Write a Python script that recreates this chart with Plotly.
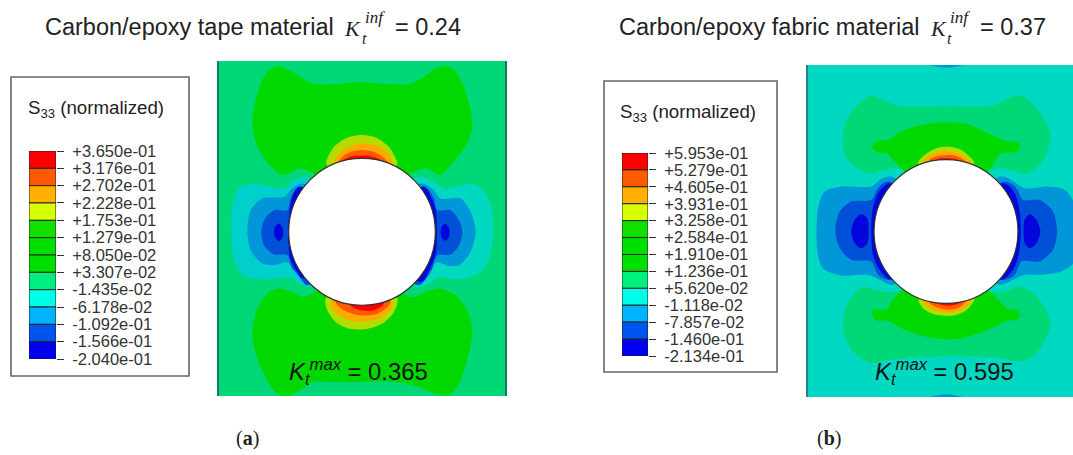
import plotly.graph_objects as go

W, H = 1073, 455

# ---- legend data ----
LEVELS_A = ["+3.650e-01","+3.176e-01","+2.702e-01","+2.228e-01","+1.753e-01","+1.279e-01","+8.050e-02",
            "+3.307e-02","-1.435e-02","-6.178e-02","-1.092e-01","-1.566e-01","-2.040e-01"]
LEVELS_B = ["+5.953e-01","+5.279e-01","+4.605e-01","+3.931e-01","+3.258e-01","+2.584e-01","+1.910e-01",
            "+1.236e-01","+5.620e-02","-1.118e-02","-7.857e-02","-1.460e-01","-2.134e-01"]
BAND_COLORS = ["#ff0000","#ff5a00","#ffb000","#d8ff00","#10e000","#00e000","#00e000",
               "#00f080","#00ffe8","#00b4ff","#0055f0","#0000f0"]

# ---- contour outlines, panel a (model units, y downwards) ----
A_GREEN_TOP = [(202,33),(237,45),(272,65),(312,87),(377,87),(452,81),(527,87),(597,87),(642,65),(677,40),(707,33),
               (737,50),(762,95),(782,165),(787,215),(772,265),(735,315),(690,360),(652,340),(612,350),(456,450),
               (300,350),(270,340),(217,360),(175,325),(140,270),(127,205),(137,135),(157,75),(177,45)]
A_GREEN_BOT = [(207,700),(247,710),(282,725),(456,640),(602,725),(647,710),(687,700),(737,720),(772,765),(787,825),
               (777,895),(747,985),(717,1020),(677,1015),(627,995),(557,980),(457,980),(357,980),(307,980),(277,1000),
               (242,1020),(212,1020),(187,1000),(152,935),(132,875),(127,825),(142,760),(177,710)]
A_YEL_TOP = [(349,327),(352,310),(372,275),(407,250),(452,240),(497,247),(537,275),(557,310),(562,327),(456,420)]
A_ORG_TOP = [(372,325),(387,295),(422,273),(457,265),(497,270),(527,290),(547,325),(456,420)]
A_ROR_TOP = [(387,320),(412,295),(452,285),(492,290),(517,305),(535,325),(456,420)]
A_RED_TOP = [(395,322),(420,305),(442,302),(477,302),(507,312),(522,325),(456,420)]
A_YEL_BOT = [(347,730),(352,765),(377,800),(417,820),(467,822),(517,805),(552,770),(562,730),(456,640)]
A_ORG_BOT = [(364,745),(387,780),(427,797),(477,797),(517,785),(547,750),(456,640)]
A_ROR_BOT = [(377,740),(402,765),(447,780),(497,777),(527,760),(542,737),(456,640)]
A_RED_BOT = [(422,750),(452,765),(492,765),(522,745),(456,640)]
A_CYAN_L = [(292,368),(257,372),(232,395),(207,400),(127,387),(87,400),(67,450),(64,530),(72,610),(97,660),(157,672),
            (217,668),(242,665),(267,685),(302,695),(456,530)]
A_LBLUE_L = [(277,385),(247,400),(222,425),(157,430),(122,465),(112,530),(122,585),(157,625),(192,630),(232,622),(262,660),(292,690),(456,530)]
A_MBLUE_L = [(267,395),(242,430),(232,465),(192,465),(162,495),(154,530),(162,570),(192,598),(232,600),(247,640),(272,665),(290,690),(456,530)]
A_DBLUE_L1 = [(267,395),(247,425),(240,460),(236,500),(234,530),(236,570),(240,610),(259,645),(277,670),(456,530)]
A_DBLUE_L2 = [(207,505),(217,518),(220,535),(215,552),(205,558),(195,545),(192,530),(195,515)]
A_CYAN_R = [(612,370),(647,368),(677,385),(707,400),(787,387),(827,415),(847,470),(849,540),(837,610),(812,650),
            (747,672),(687,665),(657,685),(617,695),(456,530)]
A_LBLUE_R = [(632,385),(667,400),(692,430),(752,430),(782,470),(797,530),(782,590),(747,630),(717,632),(677,622),(657,660),(627,690),(456,530)]
A_MBLUE_R = [(642,395),(672,430),(682,465),(722,465),(747,495),(757,530),(747,570),(722,598),(682,600),(667,640),(647,670),(625,690),(456,530)]
A_DBLUE_R1 = [(642,395),(665,430),(677,465),(681,530),(677,595),(660,640),(635,680),(456,530)]
A_DBLUE_R2 = [(705,505),(717,518),(719,530),(716,548),(705,557),(695,548),(692,530),(695,515)]

# ---- contour outlines, panel b ----
B_SPECK_T = [(389,30),(439,30),(489,30),(439,38)]
B_SPECK_B = [(389,1027),(439,1019),(489,1027)]
B_GREEN_TOP = [(209,122),(249,135),(304,155),(374,155),(444,152),(524,155),(584,150),(624,130),(664,122),(704,155),
               (734,195),(751,240),(739,300),(714,335),(674,358),(634,345),(599,340),(564,350),(438,450),(304,345),
               (279,340),(249,345),(204,355),(164,335),(134,300),(129,240),(139,195),(169,155)]
B_GREEN_BOT = [(189,697),(229,705),(264,712),(309,705),(438,640),(569,710),(614,710),(654,697),(694,710),(739,765),
               (751,810),(739,850),(704,900),(664,920),(604,910),(444,905),(324,910),(274,915),(214,925),(189,915),
               (159,890),(134,845),(129,805),(139,755),(164,715)]
B_BRIGHT_TOP = [(229,258),(264,255),(294,235),(344,215),(424,202),(504,208),(564,235),(624,260),(649,260),(661,275),
                (649,292),(624,292),(599,298),(569,345),(438,450),(309,345),(284,320),(259,295),(229,292),(216,275)]
B_BRIGHT_BOT = [(219,765),(229,763),(259,765),(279,735),(309,705),(438,640),(569,710),(599,740),(624,763),(649,765),
                (661,780),(649,797),(624,797),(564,825),(474,853),(394,850),(314,825),(259,797),(229,797),(216,780)]
B_YEL_TOP = [(354,325),(374,300),(409,280),(444,275),(484,285),(509,305),(522,325),(438,420)]
B_ORG_TOP = [(369,320),(394,300),(434,288),(474,295),(499,310),(514,325),(438,420)]
B_ROR_TOP = [(389,315),(424,302),(464,302),(494,320),(438,420)]
B_RED_TOP = [(409,315),(439,310),(469,313),(484,322),(438,420)]
B_YEL_BOT = [(356,735),(374,765),(409,780),(454,783),(494,770),(514,750),(524,730),(438,640)]
B_ORG_BOT = [(369,735),(389,760),(424,772),(464,772),(494,760),(514,733),(438,640)]
B_ROR_BOT = [(384,737),(409,757),(444,765),(474,760),(499,735),(438,640)]
B_RED_BOT = [(414,745),(444,753),(474,747),(489,735),(438,640)]
B_LBLUE_L = [(274,365),(239,375),(214,395),(124,395),(74,410),(54,460),(52,590),(69,640),(124,662),(204,660),(239,675),(279,690),(438,530)]
B_MBLUE_L = [(264,380),(234,400),(214,435),(154,440),(119,470),(106,525),(119,580),(154,615),(214,620),(234,660),(269,675),(438,530)]
B_DBLUE_L1 = [(269,385),(234,415),(217,470),(214,530),(219,600),(239,645),(274,675),(438,530)]
B_DBLUE_L2 = [(184,478),(202,490),(206,530),(202,565),(184,580),(164,565),(154,530),(164,495)]
B_LBLUE_R = [(599,365),(634,375),(674,400),(744,395),(794,405),(825,450),(830,530),(825,620),(784,650),(714,660),(674,660),(639,675),(599,690),(438,530)]
B_MBLUE_R = [(614,380),(649,400),(669,435),(719,435),(759,470),(771,530),(759,585),(719,620),(664,620),(644,660),(609,675),(438,530)]
B_DBLUE_R1 = [(609,385),(644,415),(659,470),(662,530),(656,600),(639,645),(604,675),(438,530)]
B_DBLUE_R2 = [(689,478),(709,495),(721,530),(709,565),(689,580),(674,565),(671,530),(674,495)]

PANEL_A = dict(x=(27,885), y=(1022,18), hole=(456,530,220))
PANEL_B = dict(x=(24,819), y=(1027,30), hole=(438,530,216))

DBLUE, MBLUE, LBLUE, CYAN, CYAN2 = "#0404dc", "#0050d8", "#0096d8", "#00d8c2", "#00cfcc"
SEA, GREEN, YEL, ORG, ROR, RED = "#00d878", "#00d800", "#b4dc00", "#ffa800", "#ff5a00", "#ff0000"

DRAW_A = [(A_GREEN_TOP,GREEN),(A_GREEN_BOT,GREEN),
          (A_YEL_TOP,YEL),(A_ORG_TOP,ORG),(A_ROR_TOP,ROR),(A_RED_TOP,RED),
          (A_YEL_BOT,YEL),(A_ORG_BOT,ORG),(A_ROR_BOT,ROR),(A_RED_BOT,RED),
          (A_CYAN_L,CYAN2),(A_LBLUE_L,LBLUE),(A_MBLUE_L,MBLUE),(A_DBLUE_L1,DBLUE),(A_DBLUE_L2,DBLUE),
          (A_CYAN_R,CYAN),(A_LBLUE_R,LBLUE),(A_MBLUE_R,MBLUE),(A_DBLUE_R1,DBLUE),(A_DBLUE_R2,DBLUE)]
DRAW_B = [(B_SPECK_T,LBLUE),(B_SPECK_B,LBLUE),(B_GREEN_TOP,SEA),(B_GREEN_BOT,SEA),(B_BRIGHT_TOP,GREEN),(B_BRIGHT_BOT,GREEN),
          (B_YEL_TOP,YEL),(B_ORG_TOP,ORG),(B_ROR_TOP,ROR),(B_RED_TOP,RED),
          (B_YEL_BOT,YEL),(B_ORG_BOT,ORG),(B_ROR_BOT,ROR),(B_RED_BOT,RED),
          (B_LBLUE_L,LBLUE),(B_MBLUE_L,MBLUE),(B_DBLUE_L1,DBLUE),(B_DBLUE_L2,DBLUE),
          (B_LBLUE_R,LBLUE),(B_MBLUE_R,MBLUE),(B_DBLUE_R1,DBLUE),(B_DBLUE_R2,DBLUE)]

def dx(a, b): return [a / W, b / W]
def dy(t, b): return [1 - b / H, 1 - t / H]
def px(x): return x / W
def py(y): return 1 - y / H

fig = go.Figure()

def add_panel(panel, draw, bg, ax):
    xa, xb = panel["x"]; yb, yt = panel["y"]
    xr, yr = ("x", "y") if ax == "" else ("x" + ax, "y" + ax)
    fig.add_trace(go.Scatter(x=[xa, xb, xb, xa], y=[yb, yb, yt, yt], fill="toself", fillcolor=bg, mode="none",
                             xaxis=xr, yaxis=yr, showlegend=False, hoverinfo="skip"))
    for pts, col in draw:
        xs = [p[0] for p in pts] + [pts[0][0]]
        ys = [p[1] for p in pts] + [pts[0][1]]
        fig.add_trace(go.Scatter(x=xs, y=ys, fill="toself", fillcolor=col, mode="lines",
                                 line=dict(width=0, shape="spline", smoothing=0.8, color=col),
                                 xaxis=xr, yaxis=yr, showlegend=False, hoverinfo="skip"))
    cx, cy, r = panel["hole"]
    fig.add_shape(type="circle", xref=xr, yref=yr, x0=cx - r, x1=cx + r, y0=cy - r, y1=cy + r,
                  fillcolor="white", line=dict(color="#333333", width=1.2), layer="above")

add_panel(PANEL_A, DRAW_A, SEA, "")
add_panel(PANEL_B, DRAW_B, CYAN, "2")

def add_legend(levels, ax):
    vals = [float(s) for s in levels]
    base = vals[1:]
    size = [vals[i] - vals[i + 1] for i in range(len(vals) - 1)]
    fig.add_trace(go.Bar(x=[0] * len(size), y=size, base=base, width=1, marker=dict(color=BAND_COLORS, line=dict(color="#222222", width=1)),
                         xaxis="x" + ax, yaxis="y" + ax, showlegend=False, hoverinfo="skip"))

add_legend(LEVELS_A, "3")
add_legend(LEVELS_B, "4")

def leg_y(levels, dom, anchor):
    vals = [float(s) for s in levels]
    return dict(domain=dom, range=[vals[-1], vals[0]], anchor=anchor, side="right", tickmode="array", tickvals=vals, ticktext=levels,
                ticks="outside", ticklen=7, tickcolor="#333333", tickwidth=1, showgrid=False, zeroline=False, showline=False,
                tickfont=dict(family="Liberation Sans", size=16.5, color="#333333"), ticklabelstandoff=5)

hidden = dict(visible=False, showgrid=False, zeroline=False)
fig.update_layout(
    width=W, height=H, margin=dict(l=0, r=0, t=0, b=0, autoexpand=False), paper_bgcolor="white", plot_bgcolor="rgba(0,0,0,0)", showlegend=False,
    barmode="overlay",
    xaxis=dict(domain=dx(219, 505), range=list(PANEL_A["x"]), **hidden),
    yaxis=dict(domain=dy(61, 396), range=list(PANEL_A["y"]), visible=True, showticklabels=False, ticks="", showgrid=False, zeroline=False,
               showline=True, mirror=True, linecolor="#127a60", linewidth=1.5, anchor="x"),
    xaxis2=dict(domain=dx(808, 1073), range=list(PANEL_B["x"]), anchor="y2", **hidden),
    yaxis2=dict(domain=dy(65, 397), range=list(PANEL_B["y"]), anchor="x2", showticklabels=False, ticks="", showgrid=False, zeroline=False,
                showline=True, linecolor="#2a7f95", linewidth=1.5),
    xaxis3=dict(domain=dx(29, 56), range=[-0.5, 0.5], anchor="y3", **hidden),
    yaxis3=leg_y(LEVELS_A, dy(151, 359), "x3"),
    xaxis4=dict(domain=dx(622, 648), range=[-0.5, 0.5], anchor="y4", **hidden),
    yaxis4=leg_y(LEVELS_B, dy(153, 356), "x4"),
)

for x0, y0, x1, y1 in [(11, 77, 189, 376), (604, 81, 777, 372)]:
    fig.add_shape(type="rect", xref="paper", yref="paper", x0=px(x0), x1=px(x1), y0=py(y0), y1=py(y1),
                  line=dict(color="#666666", width=1.6), fillcolor="white", layer="below")

SANS, SERIF = "Liberation Sans", "Liberation Serif"
def note(text, x, y, size, family=SANS, color="#222222", anchor="left"):
    fig.add_annotation(text=text, xref="paper", yref="paper", x=px(x), y=py(y), xanchor=anchor, yanchor="middle",
                       showarrow=False, font=dict(family=family, size=size, color=color))

note("Carbon/epoxy tape material", 43, 27, 23.5)
note("<i>K</i>", 342, 29, 22, SERIF)
note("<i>t</i>", 360, 38, 16, SERIF)
note("<i>inf</i>", 363, 18, 17, SERIF)
note("= 0.24", 393, 27, 23.5)
note("Carbon/epoxy fabric material", 617, 27, 23.5)
note("<i>K</i>", 928, 29, 22, SERIF)
note("<i>t</i>", 945, 38, 16, SERIF)
note("<i>inf</i>", 948, 18, 17, SERIF)
note("= 0.37", 978, 27, 23.5)
note("S<sub>33</sub> (normalized)", 26, 109, 18.7)
note("S<sub>33</sub> (normalized)", 618, 113, 18.7)
note("<i>K</i><sub><i>t</i></sub><sup><i>max</i></sup> = 0.365", 287, 372, 23.8, color="#111111")
note("<i>K</i><sub><i>t</i></sub><sup><i>max</i></sup> = 0.595", 873, 372, 23.8, color="#111111")
note("(<b>a</b>)", 247, 438, 20, SERIF, anchor="center")
note("(<b>b</b>)", 829, 438, 20, SERIF, anchor="center")

fig.write_html("out.html", config=dict(displayModeBar=False),
               post_script="document.body.style.margin='0';document.documentElement.style.overflow='hidden';")
